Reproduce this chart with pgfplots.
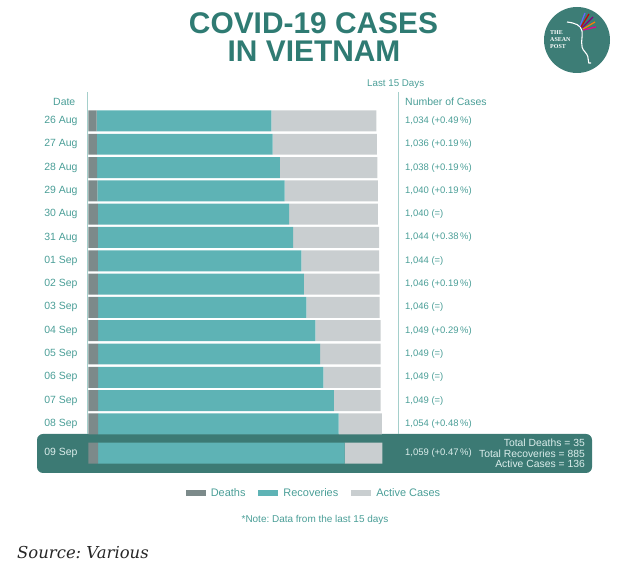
\documentclass[border=0pt]{standalone}
\usepackage{pgfplots}
\pgfplotsset{compat=1.18}
\usepackage{pgfplotstable}
\usepackage{fontspec}
\setmainfont{Liberation Sans}
\newfontfamily\srcfont{DejaVu Serif}
\newfontfamily\logofont{Liberation Serif}
\frenchspacing

\definecolor{titlec}{HTML}{2F7B73}
\definecolor{bandc}{HTML}{3C7A74}
\definecolor{labc}{HTML}{4A9E97}
\definecolor{deathc}{HTML}{7C8A8A}
\definecolor{recc}{HTML}{5EB3B5}
\definecolor{actc}{HTML}{C9CED0}
\definecolor{linec}{HTML}{A5CFCB}
\definecolor{bandtxt}{HTML}{DCEEEC}
\definecolor{logoc}{HTML}{3D7D76}

\pgfplotstableread{
y deaths recov active
0 30 627 377
1 31 631 374
2 32 656 350
3 33 672 335
4 34 687 319
5 34 701 309
6 34 731 279
7 34 740 272
8 35 748 263
9 35 780 234
10 35 797 217
11 35 809 205
12 35 847 167
13 35 864 155
14.25 35 885 136
}\datatable

\newcommand{\fs}[1]{\fontsize{#1}{#1}\selectfont}

\begin{document}
\begin{tikzpicture}[x=1bp,y=1bp, t/.style={inner sep=0pt}]
\path[use as bounding box] (0,0) rectangle (630,568);
% title
\node[t, anchor=base, font=\bfseries\fs{30}, text=titlec] at (313.5,534.5) {COVID-19 CASES};
\node[t, anchor=base, font=\bfseries\fs{30}, text=titlec] at (314,506) {IN VIETNAM};
% logo
\fill[logoc] (577,528) circle (33);
\node[t, anchor=west, font=\logofont\bfseries\fs{6}, text=white] at (550,535) {THE};
\node[t, anchor=west, font=\logofont\bfseries\fs{6}, text=white] at (550,528) {ASEAN};
\node[t, anchor=west, font=\logofont\bfseries\fs{6}, text=white] at (550,521) {POST};
\draw[white, line width=1.1bp] (567,546) .. controls (575,545) and (581,543) .. (582,537) .. controls (583,529) and (579,522) .. (585,516) .. controls (591,510) and (586,503) .. (591,505);
\draw[red!80!black, line width=1.2bp] (581,541) -- (589,554);
\draw[violet, line width=1.2bp] (582,540) -- (593,551);
\draw[orange, line width=1.2bp] (583,539) -- (595,546);
\draw[blue!60, line width=1.2bp] (580,542) -- (585,555);
\draw[magenta, line width=1.2bp] (583,538) -- (596,541);
% headers
\node[t, anchor=west, font=\fs{9.8}, text=labc] at (367,484) {Last 15 Days};
\node[t, anchor=west, font=\fs{10.5}, text=labc] at (53,466) {Date};
\node[t, anchor=west, font=\fs{10.5}, text=labc] at (405,466) {Number of Cases};
% band
\fill[bandc, rounded corners=6bp] (37,95) rectangle (592,134);
% vertical rules
\draw[linec, line width=0.8bp] (87,476) -- (87,134);
\draw[linec, line width=0.8bp] (398,476) -- (398,134);
\begin{axis}[
  at={(88.3bp,103.3bp)}, anchor=south west,
  scale only axis, width=306.4bp, height=355.4bp,
  xbar stacked, bar width=0.9,
  xmin=0, xmax=1100, ymin=-0.5, ymax=14.75, y dir=reverse,
  axis line style={draw=none}, tick style={draw=none},
  xtick=\empty,
  ytick={0,1,2,3,4,5,6,7,8,9,10,11,12,13,14.25},
  yticklabels={26 Aug,27 Aug,28 Aug,29 Aug,30 Aug,31 Aug,01 Sep,02 Sep,03 Sep,04 Sep,05 Sep,06 Sep,07 Sep,08 Sep,{\textcolor{bandtxt}{09 Sep}}},
  yticklabel style={font=\fs{10.5}, text=labc, inner sep=0pt, xshift=-10.6bp},
  clip=false,
  legend columns=3,
  legend image code/.code={\fill[#1] (0bp,-3.3bp) rectangle (20bp,3.3bp);},
  legend style={at={(0.7366,-0.0796)}, anchor=center, draw=none, fill=none,
    font=\fs{11}, text=labc,
    /tikz/every odd column/.append style={column sep=3bp},
    /tikz/every even column/.append style={column sep=11bp}},
]
\addplot[fill=deathc, draw=none] table[x=deaths, y=y]{\datatable};
\addplot[fill=recc, draw=none] table[x=recov, y=y]{\datatable};
\addplot[fill=actc, draw=none] table[x=active, y=y]{\datatable};
\legend{Deaths, Recoveries, Active Cases}
\node[t, anchor=west, font=\fs{9.5}, text=labc] at (axis cs:1137,0) {1,034 (+0.49\,\%)};
\node[t, anchor=west, font=\fs{9.5}, text=labc] at (axis cs:1137,1) {1,036 (+0.19\,\%)};
\node[t, anchor=west, font=\fs{9.5}, text=labc] at (axis cs:1137,2) {1,038 (+0.19\,\%)};
\node[t, anchor=west, font=\fs{9.5}, text=labc] at (axis cs:1137,3) {1,040 (+0.19\,\%)};
\node[t, anchor=west, font=\fs{9.5}, text=labc] at (axis cs:1137,4) {1,040 (=)};
\node[t, anchor=west, font=\fs{9.5}, text=labc] at (axis cs:1137,5) {1,044 (+0.38\,\%)};
\node[t, anchor=west, font=\fs{9.5}, text=labc] at (axis cs:1137,6) {1,044 (=)};
\node[t, anchor=west, font=\fs{9.5}, text=labc] at (axis cs:1137,7) {1,046 (+0.19\,\%)};
\node[t, anchor=west, font=\fs{9.5}, text=labc] at (axis cs:1137,8) {1,046 (=)};
\node[t, anchor=west, font=\fs{9.5}, text=labc] at (axis cs:1137,9) {1,049 (+0.29\,\%)};
\node[t, anchor=west, font=\fs{9.5}, text=labc] at (axis cs:1137,10) {1,049 (=)};
\node[t, anchor=west, font=\fs{9.5}, text=labc] at (axis cs:1137,11) {1,049 (=)};
\node[t, anchor=west, font=\fs{9.5}, text=labc] at (axis cs:1137,12) {1,049 (=)};
\node[t, anchor=west, font=\fs{9.5}, text=labc] at (axis cs:1137,13) {1,054 (+0.48\,\%)};
\node[t, anchor=west, font=\fs{9.5}, text=bandtxt] at (axis cs:1137,14.25) {1,059 (+0.47\,\%)};
\end{axis}
% band totals
\node[t, anchor=east, font=\fs{10.4}, text=bandtxt] at (585,125) {Total Deaths = 35};
\node[t, anchor=east, font=\fs{10.4}, text=bandtxt] at (585,114.5) {Total Recoveries = 885};
\node[t, anchor=east, font=\fs{10.4}, text=bandtxt] at (585,104) {Active Cases = 136};
% note and source
\node[t, anchor=center, font=\fs{10}, text=labc] at (315,48) {*Note: Data from the last 15 days};
\node[t, anchor=west, font=\srcfont\itshape\fs{16.5}, text=black!85] at (17,15.5) {Source: Various};
\end{tikzpicture}
\end{document}
